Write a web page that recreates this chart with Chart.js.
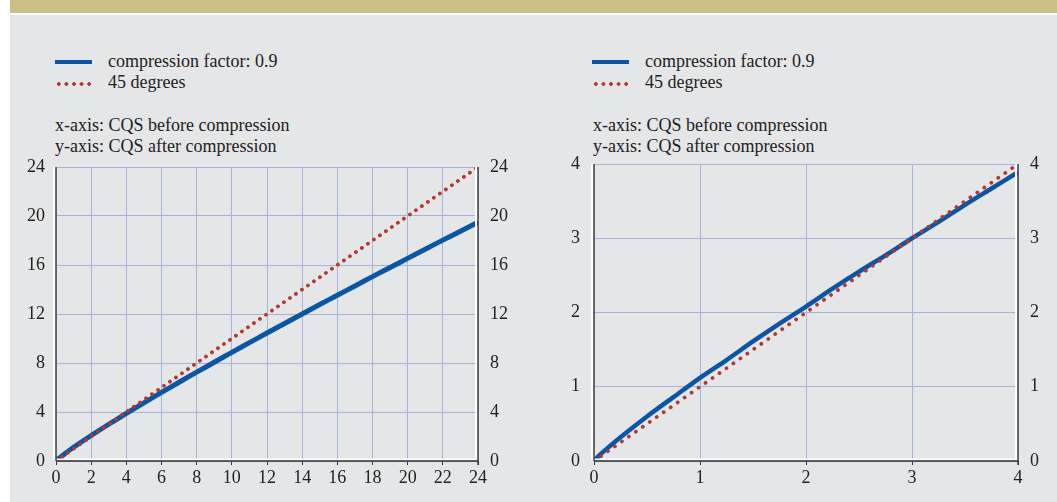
<!DOCTYPE html>
<html>
<head>
<meta charset="utf-8">
<script src="https://cdn.jsdelivr.net/npm/chart.js@4.4.1/dist/chart.umd.min.js"></script>
<style>
  body { margin: 0; background: #fff; }
  .page { position: absolute; left: 10px; top: 0; width: 1047px; height: 502px; background: #e5e6e8; font-family: "Liberation Serif", "Times New Roman", Times, serif; color: #222; }
  .band { position: absolute; left: 0; top: 0; width: 100%; height: 13px; background: #cbbf85; border-bottom: 2px solid #fff; }
  .legend { position: absolute; font-size: 18px; line-height: 21px; }
  .legend .row { position: relative; height: 21px; padding-left: 98px; }
  .legend .solid { position: absolute; left: 45px; top: 9px; width: 37px; height: 4px; background: #0b55a3; }
  .legend .dots { position: absolute; left: 45px; top: 10px; width: 38px; height: 4px;
    background-image: radial-gradient(circle, #b5392f 1.6px, transparent 1.9px); background-size: 7.6px 4px; }
  .note { position: absolute; font-size: 18px; line-height: 21px; }
  .chart-box { position: absolute; }
</style>
</head>
<body>
<div class="page">
  <div class="band"></div>
  <div class="legend" style="left:0;top:51px">
    <div class="row"><span class="solid"></span>compression factor: 0.9</div>
    <div class="row"><span class="dots"></span>45 degrees</div>
  </div>
  <div class="note" style="left:45px;top:115px">x-axis: CQS before compression<br>y-axis: CQS after compression</div>
  <div class="legend" style="left:537px;top:51px">
    <div class="row"><span class="solid"></span>compression factor: 0.9</div>
    <div class="row"><span class="dots"></span>45 degrees</div>
  </div>
  <div class="note" style="left:583px;top:115px">x-axis: CQS before compression<br>y-axis: CQS after compression</div>
</div>
<div class="chart-box" style="left:0;top:150px;width:528px;height:352px"><canvas id="leftChart"></canvas></div>
<div class="chart-box" style="left:528px;top:150px;width:529px;height:352px"><canvas id="rightChart"></canvas></div>
<script>
// left panel: CQS 0..24
const leftX = [0, 0.1, 0.25, 0.5, 1, 2, 3, 4, 5, 6, 7, 8, 9, 10, 11, 12, 13, 14, 15, 16, 17, 18, 19, 20, 21, 22, 23, 24];
const leftY = [0, 0.14, 0.32, 0.6, 1.12, 2.08, 3.0, 3.89, 4.75, 5.6, 6.43, 7.25, 8.06, 8.87, 9.66, 10.45, 11.23, 12.0, 12.77, 13.53, 14.29, 15.05, 15.8, 16.54, 17.29, 18.03, 18.76, 19.5];
const leftDiagX = [0, 24];
const leftDiagY = [0, 24];
const leftXTicks = [0, 2, 4, 6, 8, 10, 12, 14, 16, 18, 20, 22, 24];
const leftYTicks = [0, 4, 8, 12, 16, 20, 24];

// right panel: CQS 0..4
const rightX = [0, 0.05, 0.1, 0.25, 0.5, 0.75, 1, 1.25, 1.5, 1.75, 2, 2.25, 2.5, 2.75, 3, 3.25, 3.5, 3.75, 4];
const rightY = [0, 0.075, 0.14, 0.32, 0.6, 0.86, 1.12, 1.36, 1.61, 1.85, 2.08, 2.32, 2.55, 2.77, 3.0, 3.22, 3.45, 3.67, 3.89];
const rightDiagX = [0, 4];
const rightDiagY = [0, 4];
const rightXTicks = [0, 1, 2, 3, 4];
const rightYTicks = [0, 1, 2, 3, 4];

const FONT = { family: '"Liberation Serif", "Times New Roman", Times, serif', size: 18 };
const toPts = (xs, ys) => xs.map((x, i) => ({ x: x, y: ys[i] }));

// embossed axis lines: white highlight next to the dark axis
const axisRelief = {
  id: 'axisRelief',
  afterDraw(chart) {
    const a = chart.chartArea, c = chart.ctx;
    c.save();
    c.strokeStyle = '#ffffff';
    c.lineWidth = 2;
    c.beginPath();
    c.moveTo(a.left - 2, a.top); c.lineTo(a.left - 2, a.bottom - 1);
    c.moveTo(a.left, a.bottom - 1.5); c.lineTo(a.right - 1.5, a.bottom - 1.5);
    c.moveTo(a.right - 2, a.top); c.lineTo(a.right - 2, a.bottom - 1);
    c.stroke();
    c.strokeStyle = '#333';
    c.lineWidth = 1.3;
    c.beginPath();
    c.moveTo(a.left, a.top); c.lineTo(a.left, a.bottom);
    c.moveTo(a.right, a.top); c.lineTo(a.right, a.bottom + 4);
    c.moveTo(a.left, a.bottom); c.lineTo(a.right, a.bottom);
    c.stroke();
    c.restore();
  }
};

function makeChart(id, xs, ys, dx, dy, xTicks, yTicks, max, dims, lineW, dotGap) {
  const fixTicks = list => axis => { axis.ticks = list.map(v => ({ value: v })); };
  const fitY = w => s => { s.width = w; s.paddingTop = 0; s.paddingBottom = 0; };
  return new Chart(document.getElementById(id), {
    type: 'line',
    data: {
      datasets: [
        { data: toPts(xs, ys), borderColor: '#0b55a3', borderWidth: lineW, pointRadius: 0, tension: 0.3, order: 2 },
        { data: toPts(dx, dy), borderColor: '#b3382e', borderWidth: 3.8, borderDash: [0.01, dotGap], borderCapStyle: 'round', pointRadius: 0, order: 1 }
      ]
    },
    options: {
      responsive: true,
      maintainAspectRatio: false,
      animation: false,
      layout: { padding: { top: dims.top, left: 0, right: 0, bottom: 0 } },
      plugins: { legend: { display: false }, tooltip: { enabled: false } },
      scales: {
        x: {
          type: 'linear', min: 0, max: max,
          afterBuildTicks: fixTicks(xTicks),
          afterFit: s => { s.height = dims.bottom; s.paddingLeft = 0; s.paddingRight = 0; },
          grid: { color: '#a6b3dc', lineWidth: 1, drawTicks: true, tickLength: 4, tickColor: '#333' },
          border: { display: false },
          ticks: { font: FONT, color: '#222', padding: 2, maxRotation: 0, autoSkip: false }
        },
        y: {
          type: 'linear', position: 'left', min: 0, max: max,
          afterBuildTicks: fixTicks(yTicks),
          afterFit: fitY(dims.left),
          grid: { color: '#a6b3dc', lineWidth: 1, drawTicks: false },
          border: { display: false },
          ticks: { font: FONT, color: '#222', padding: dims.lpad, autoSkip: false }
        },
        y2: {
          type: 'linear', position: 'right', min: 0, max: max,
          afterBuildTicks: fixTicks(yTicks),
          afterFit: fitY(dims.right),
          grid: { display: false, drawTicks: false },
          border: { display: false },
          ticks: { font: FONT, color: '#222', padding: 12, autoSkip: false }
        }
      }
    },
    plugins: [axisRelief]
  });
}

makeChart('leftChart', leftX, leftY, leftDiagX, leftDiagY, leftXTicks, leftYTicks, 24,
  { top: 17, bottom: 41, left: 56, right: 50, lpad: 11 }, 5, 7.3);
makeChart('rightChart', rightX, rightY, rightDiagX, rightDiagY, rightXTicks, rightYTicks, 4,
  { top: 14, bottom: 41, left: 66, right: 39, lpad: 14 }, 4.5, 8.5);
</script>
</body>
</html>
